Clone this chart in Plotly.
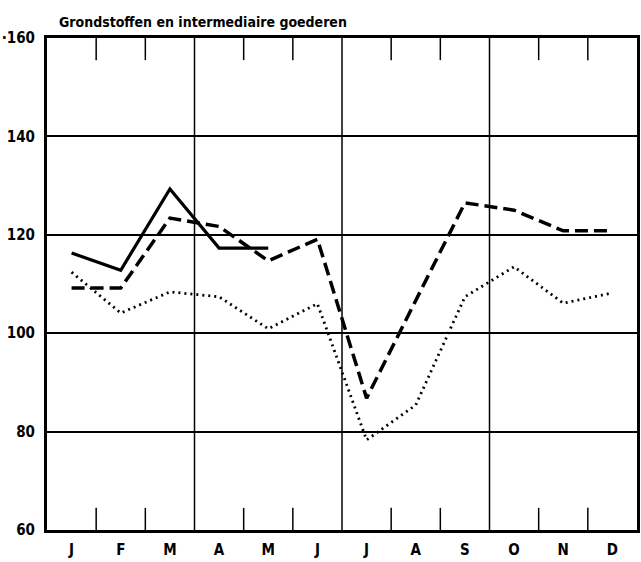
import plotly.graph_objects as go

months = ["J", "F", "M", "A", "M", "J", "J", "A", "S", "O", "N", "D"]
solid_vals = [116.3, 112.8, 129.3, 117.3, 117.3]
dashed_vals = [109.2, 109.2, 123.4, 121.7, 114.7, 119.1, 86.8, 106.5, 126.5, 125.0, 120.8, 120.8]
dotted_vals = [112.4, 104.1, 108.4, 107.4, 100.9, 106.0, 78.3, 85.4, 107.4, 113.5, 106.1, 108.2]
y_ticks = [60, 80, 100, 120, 140, 160]
y_ticktext = ["60", "80", "100", "120", "140", "·160"]
title_text = "Grondstoffen en intermediaire goederen"

xc = [i + 0.5 for i in range(12)]
FONT = "DejaVu Sans Condensed"

fig = go.Figure()
fig.add_trace(go.Scatter(x=xc, y=dotted_vals, mode="lines",
                         line=dict(color="black", width=2.8, dash="2px,4px")))
fig.add_trace(go.Scatter(x=xc, y=dashed_vals, mode="lines",
                         line=dict(color="black", width=3.5, dash="13px,6px")))
fig.add_trace(go.Scatter(x=xc[:len(solid_vals)], y=solid_vals, mode="lines",
                         line=dict(color="black", width=3.2)))

shapes = []
for k in range(1, 12):
    if k % 3 == 0:
        shapes.append(dict(type="line", xref="x", yref="y", x0=k, x1=k, y0=60, y1=160,
                           line=dict(color="black", width=1.5), layer="below"))
    else:
        shapes.append(dict(type="line", xref="x", yref="y", x0=k, x1=k, y0=60, y1=64.5,
                           line=dict(color="black", width=1.5), layer="below"))
        shapes.append(dict(type="line", xref="x", yref="y", x0=k, x1=k, y0=155.5, y1=160,
                           line=dict(color="black", width=1.5), layer="below"))

fig.update_layout(
    width=641, height=562,
    margin=dict(l=47, r=4, t=38, b=32, autoexpand=False),
    paper_bgcolor="white", plot_bgcolor="white",
    showlegend=False,
    shapes=shapes,
    font=dict(family=FONT, color="black", size=15, weight="bold"),
    annotations=[dict(text=title_text, xref="paper", yref="paper", x=0.017, y=1.0,
                      xanchor="left", yanchor="bottom", yshift=6, showarrow=False,
                      font=dict(family=FONT, size=14, color="black", weight="bold"))],
)
fig.update_xaxes(range=[0, 12], tickvals=xc, ticktext=months, showgrid=False, zeroline=False,
                 showline=True, mirror=True, linecolor="black", linewidth=3,
                 ticks="", ticklabelstandoff=4, fixedrange=True,
                 tickfont=dict(size=15))
fig.update_yaxes(range=[60, 160], tickvals=y_ticks, ticktext=y_ticktext, showgrid=True,
                 gridcolor="black", gridwidth=1.5, zeroline=False,
                 showline=True, mirror=True, linecolor="black", linewidth=3,
                 ticks="", ticklabelstandoff=6, fixedrange=True)

fig.write_html("out.html", config={"displayModeBar": False},
               post_script="document.body.style.margin='0';document.body.style.overflow='hidden';")
